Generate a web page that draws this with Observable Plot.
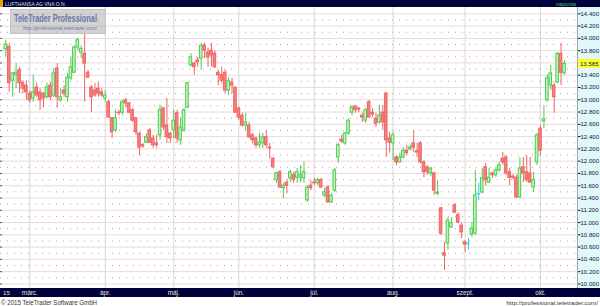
<!DOCTYPE html>
<html><head><meta charset="utf-8">
<script src="https://cdn.jsdelivr.net/npm/d3@7"></script>
<script src="https://cdn.jsdelivr.net/npm/@observablehq/plot@0.6"></script>
<style>
html,body{margin:0;padding:0;background:#fff;}
#wrap{position:relative;width:600px;height:306px;overflow:hidden;background:#fff;font-family:"Liberation Sans",Arial,sans-serif;}
#wrap > *{position:absolute;left:0;top:0;}
#panel{left:577px;top:7px;width:23px;height:281px;background:#e0f8f8;border-left:1px solid #9aa;box-sizing:border-box;}
#topbar{width:600px;height:7px;background:#00003c;}
#botbar{top:288px;width:600px;height:9px;background:#00003c;}
#chart{width:600px;height:306px;}
#chart svg{max-width:none !important;width:600px !important;height:306px !important;}
#chrome{pointer-events:none;}
</style>
</head><body>
<div id="wrap">
  <div id="panel"></div>
  <div id="topbar"></div>
  <div id="botbar"></div>
  <div id="chart"></div>
  <svg id="chrome" width="600" height="306" font-family="Liberation Sans, Arial, sans-serif">
    <rect x="0" y="0" width="3" height="7" fill="#f0a000"/>
    <text x="5" y="5.7" font-size="5.6" fill="#cfe6cf" textLength="61" lengthAdjust="spacingAndGlyphs">LUFTHANSA AG VNA O.N.</text>
    <text x="576" y="5.7" font-size="5.6" fill="#3cc83c" text-anchor="end">naponta</text>
    <text x="3" y="295" font-size="6.2" fill="#e6e6c8">15</text>
    <text x="1" y="304.6" font-size="6.5" fill="#333" textLength="96" lengthAdjust="spacingAndGlyphs">© 2015 TeleTrader Software GmbH</text>
    <text x="598" y="304.6" font-size="6.2" fill="#333" text-anchor="end">http://professional.teletrader.com/</text>
    <rect x="10.5" y="9.5" width="95" height="24" fill="rgba(175,175,175,0.55)" stroke="#c4c4c4"/>
    <text x="14" y="22" font-size="10.5" font-weight="bold" fill="#6878a8" textLength="83" lengthAdjust="spacingAndGlyphs">TeleTrader Professional</text>
    <text x="23" y="30" font-size="5" font-style="italic" fill="#6878a8" textLength="74" lengthAdjust="spacingAndGlyphs">http://professional.teletrader.com/</text>
    <g id="pricebox"></g>
  </svg>
</div>
<script>
// Daily OHLC, Lufthansa, 19 Feb – 12 Oct 2015
const openV = [13.82,13.86,13.31,13.40,13.48,13.27,13.23,13.10,13.02,13.20,13.12,13.10,13.04,13.23,13.07,13.51,12.99,13.15,13.04,13.35,
13.44,13.85,13.77,13.75,13.44,13.20,13.15,13.18,13.12,13.02,12.96,12.70,12.50,12.79,12.79,12.99,12.94,12.83,12.70,12.45,
12.26,12.30,12.50,12.37,12.29,12.42,12.86,12.58,12.45,12.50,12.78,12.34,12.50,12.87,13.56,13.59,13.64,13.67,13.88,13.77,
13.80,13.75,13.44,13.40,13.44,13.15,13.28,13.20,12.86,12.74,12.58,12.58,12.42,12.37,12.26,12.29,12.39,12.22,12.04,11.69,
11.82,11.56,11.65,11.72,11.77,11.73,11.73,11.72,11.36,11.60,11.65,11.64,11.69,11.44,11.57,11.33,11.52,12.06,12.35,12.29,
12.45,12.79,12.89,12.86,12.74,12.66,12.96,12.79,12.69,12.63,12.79,13.10,12.37,12.29,12.06,11.98,12.06,12.17,12.19,12.29,
12.16,12.29,11.98,11.90,11.80,11.80,11.47,11.23,10.50,10.66,10.92,11.28,11.12,10.95,10.68,10.66,10.81,10.82,11.47,11.49,
11.90,11.65,11.80,11.77,11.85,12.04,12.06,11.82,11.75,11.73,11.41,11.90,11.82,11.80,11.57,11.98,12.53,12.65,12.99,13.23,
13.23,13.28,13.75,13.43];
const highV = [13.97,13.92,13.44,13.59,13.53,13.31,13.31,13.15,13.40,13.27,13.18,13.12,13.27,13.28,13.51,13.59,13.18,13.23,13.43,13.69,
13.88,14.00,13.88,14.08,13.48,13.23,13.27,13.28,13.18,13.15,12.99,12.71,12.83,12.83,12.99,13.02,12.96,12.86,12.71,12.47,
12.29,12.45,12.53,12.42,12.42,12.91,12.87,13.02,12.47,12.83,12.83,12.71,12.86,13.28,13.75,13.61,13.69,13.92,13.92,13.84,
13.92,13.80,13.48,13.53,13.48,13.36,13.35,13.20,12.87,12.78,12.78,12.63,12.45,12.39,12.45,12.45,12.50,12.29,12.06,11.82,
11.85,11.64,11.69,11.85,11.82,11.88,11.93,11.98,11.60,11.69,11.72,11.72,11.72,11.56,11.60,11.47,11.88,12.29,12.42,12.47,
12.69,12.91,12.91,12.87,12.78,12.86,12.99,12.86,12.78,12.91,12.91,13.12,12.47,12.47,12.09,12.13,12.22,12.26,12.26,12.50,
12.29,12.32,12.01,11.93,11.90,11.82,11.69,11.25,10.68,11.08,11.08,11.31,11.16,10.99,10.71,10.74,11.00,11.85,11.64,11.88,
11.96,11.88,11.82,11.90,11.98,12.14,12.09,11.88,11.78,11.77,12.06,12.06,12.09,12.06,11.82,12.45,12.58,12.90,13.40,13.56,
13.27,13.77,13.92,13.64];
const lowV = [13.69,13.12,13.04,13.18,13.10,13.10,12.99,12.94,12.96,13.04,12.83,12.87,13.02,12.99,13.04,12.86,12.96,13.04,12.96,13.31,
13.43,13.80,13.67,12.96,13.35,12.79,13.04,13.04,13.04,12.96,12.70,12.37,12.47,12.74,12.74,12.87,12.78,12.63,12.42,12.09,
12.21,12.29,12.29,12.21,12.21,12.34,12.50,12.29,12.29,12.37,12.29,12.26,12.47,12.86,13.53,13.40,13.53,13.48,13.67,13.53,
13.53,13.51,13.23,13.27,13.10,13.07,13.10,12.78,12.66,12.55,12.50,12.37,12.29,12.21,12.21,12.21,12.21,12.04,11.88,11.64,
11.56,11.39,11.47,11.65,11.64,11.64,11.65,11.64,11.33,11.52,11.60,11.60,11.56,11.41,11.31,11.31,11.49,11.96,12.29,12.26,
12.42,12.74,12.78,12.79,12.63,12.61,12.70,12.71,12.55,12.61,12.50,12.06,12.13,12.01,11.93,11.97,12.04,12.09,12.17,12.14,
12.06,11.96,11.73,11.77,11.75,11.44,11.44,10.79,10.22,10.55,10.90,11.15,10.98,10.74,10.51,10.55,10.76,10.79,11.36,11.47,
11.60,11.64,11.72,11.73,11.82,11.93,11.77,11.60,11.69,11.39,11.39,11.65,11.65,11.64,11.49,11.93,12.09,12.53,12.96,13.15,
12.78,13.27,13.23,13.40];
const closeV = [13.90,13.27,13.43,13.44,13.27,13.18,13.12,12.99,13.12,13.07,12.99,13.02,13.20,13.04,13.43,13.04,13.04,13.10,13.36,13.53,
13.85,13.97,13.83,13.59,13.36,13.04,13.07,13.10,13.07,13.07,12.71,12.47,12.70,12.78,12.96,12.94,12.79,12.66,12.47,12.22,
12.24,12.39,12.30,12.26,12.26,12.83,12.55,12.39,12.37,12.66,12.37,12.55,12.83,13.27,13.69,13.53,13.61,13.88,13.80,13.69,
13.72,13.53,13.40,13.31,13.15,13.31,13.23,12.79,12.71,12.58,12.63,12.39,12.34,12.26,12.30,12.39,12.26,12.21,11.90,11.80,
11.57,11.60,11.60,11.82,11.69,11.82,11.77,11.82,11.57,11.56,11.64,11.69,11.57,11.49,11.33,11.44,11.85,12.26,12.32,12.45,
12.66,12.87,12.83,12.84,12.71,12.83,12.71,12.76,12.61,12.74,12.63,12.34,12.30,12.42,11.98,12.06,12.17,12.13,12.22,12.22,
12.14,11.98,11.82,11.82,11.88,11.52,11.49,10.82,10.46,11.03,10.99,11.16,11.00,10.84,10.64,10.66,10.90,11.44,11.47,11.72,
11.69,11.73,11.77,11.85,11.93,11.98,11.80,11.73,11.73,11.41,11.88,11.80,11.69,11.65,11.69,12.42,12.17,12.68,13.35,13.43,
13.04,13.75,13.44,13.585];

// axis tick data
const priceTicks = [10.0,10.2,10.4,10.6,10.8,11.0,11.2,11.4,11.6,11.8,12.0,12.2,12.4,12.6,12.8,13.0,13.2,13.4,13.6,13.8,14.0,14.2,14.4];
const monthIdx = [7, 29, 49, 68, 90, 113, 134, 156];
const monthLabels = ["márc.", "ápr.", "máj.", "jún.", "júl.", "aug.", "szept.", "okt."];

const candles = openV.map((o, i) => ({i, open: o, high: highV[i], low: lowV[i], close: closeV[i]}));
const dir = d => d.close > d.open ? "up" : d.close < d.open ? "down" : "flat";
const strokeC = {up: "#4ccc4c", down: "#f06464", flat: "#30d4ee"};
const fillC = {up: "#c4f2c4", down: "#f48080", flat: "#30d4ee"};
const minorTicks = d3.pairs(priceTicks).map(([a, b]) => (a + b) / 2);
const labelOf = new Map(monthIdx.map((m, k) => [m, monthLabels[k]]));
const xDomain = [-1.55, 166.8];
const hw = 0.38;

const plot = Plot.plot({
  width: 600, height: 306,
  marginTop: 7, marginBottom: 18, marginLeft: 0, marginRight: 23,
  x: {type: "linear", domain: xDomain},
  y: {domain: [9.926, 14.503]},
  style: {background: "transparent", fontFamily: "Liberation Sans, Arial, sans-serif", overflow: "visible"},
  marks: [
    Plot.ruleY(minorTicks, {stroke: "#a8a8a8", strokeDasharray: "1,6"}),
    Plot.ruleY(priceTicks, {stroke: "#eed8dc"}),
    Plot.ruleX(monthIdx, {stroke: "#d8d8d8"}),
    Plot.ruleY(priceTicks, {x1: xDomain[0], x2: xDomain[0] + 0.6, stroke: "#555"}),
    Plot.ruleX(candles, {x: "i", y1: "low", y2: "high", stroke: d => strokeC[dir(d)]}),
    Plot.rect(candles.filter(d => dir(d) !== "flat"), {
      x1: d => d.i - hw, x2: d => d.i + hw, y1: "open", y2: "close",
      fill: d => fillC[dir(d)], stroke: d => strokeC[dir(d)], strokeWidth: 1
    }),
    Plot.ruleY(candles.filter(d => dir(d) === "flat"), {
      y: "close", x1: d => d.i - hw - 0.1, x2: d => d.i + hw + 0.1, stroke: strokeC.flat, strokeWidth: 1.5
    }),
    Plot.axisY(priceTicks, {
      anchor: "right", tickFormat: d3.format(".3f"), tickSize: 2.5, tickPadding: 0.5,
      fontSize: 6.05, color: "#10103a", label: null
    }),
    Plot.axisX(monthIdx, {
      anchor: "bottom", tickSize: 0, tickPadding: 2.2, tickFormat: d => labelOf.get(d),
      fontSize: 6.4, color: "#e6e6c8", label: null
    })
  ]
});
plot.style.position = "absolute";
plot.style.left = "0px";
plot.style.top = "0px";
plot.style.maxWidth = "none";
document.getElementById("chart").appendChild(plot);

// last price marker, placed through the plot's y scale
const last = closeV[closeV.length - 1];
const yLast = plot.scale("y").apply(last);
const g = d3.select("#pricebox");
g.append("rect").attr("x", 578).attr("y", yLast - 4.5).attr("width", 22).attr("height", 9).attr("fill", "#ffff30");
g.append("text").attr("x", 580).attr("y", yLast + 2.2).attr("font-size", 6.05).attr("fill", "#10103a")
  .text(d3.format(".3f")(last));
</script>
</body></html>
